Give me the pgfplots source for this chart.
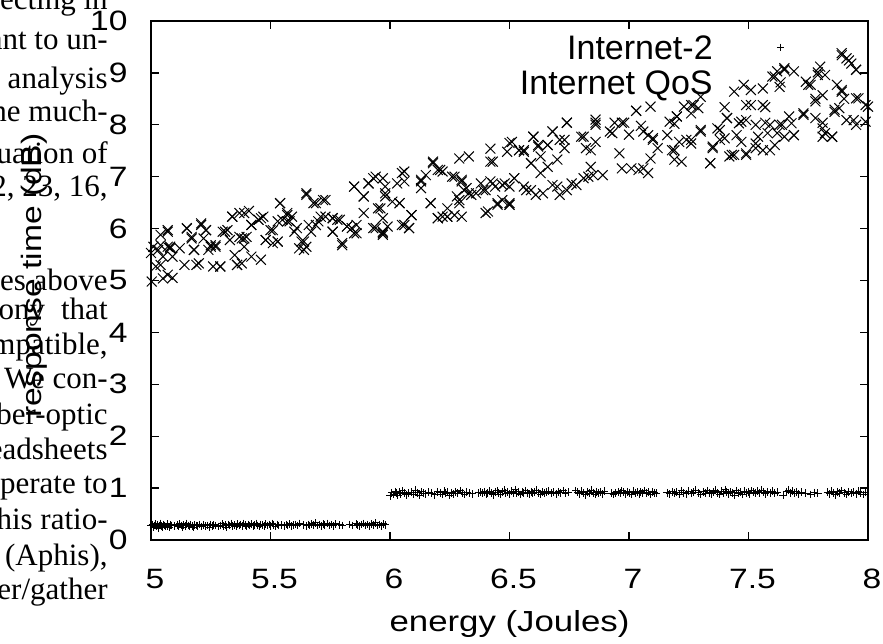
\documentclass[border=0pt]{standalone}
\usepackage{fontspec}
\usepackage{pgfplots}
\pgfplotsset{compat=1.18}
\setmainfont{Liberation Sans}
\newfontfamily\sansf[FakeStretch=1.2]{Liberation Sans}
\newfontfamily\serf{Liberation Serif}

\pgfplotstableread{
x y
5.000 0.27
5.006 0.30
5.010 0.24
5.014 0.28
5.019 0.31
5.023 0.26
5.027 0.29
5.031 0.23
5.036 0.28
5.040 0.32
5.045 0.27
5.049 0.25
5.053 0.30
5.058 0.28
5.062 0.26
5.067 0.31
5.071 0.27
5.076 0.24
5.080 0.29
5.085 0.28
5.097 0.27
5.110 0.29
5.116 0.26
5.121 0.31
5.127 0.28
5.133 0.25
5.138 0.29
5.144 0.27
5.150 0.32
5.155 0.28
5.161 0.26
5.166 0.30
5.172 0.27
5.178 0.24
5.183 0.29
5.189 0.28
5.196 0.27
5.205 0.30
5.212 0.26
5.218 0.29
5.226 0.27
5.238 0.28
5.245 0.25
5.251 0.30
5.257 0.27
5.263 0.29
5.270 0.28
5.281 0.26
5.290 0.28
5.298 0.31
5.304 0.27
5.311 0.29
5.317 0.25
5.323 0.30
5.330 0.28
5.336 0.32
5.343 0.27
5.350 0.29
5.356 0.26
5.362 0.31
5.369 0.28
5.375 0.30
5.381 0.27
5.388 0.32
5.395 0.29
5.401 0.26
5.408 0.30
5.414 0.28
5.421 0.31
5.428 0.27
5.434 0.29
5.441 0.32
5.447 0.28
5.454 0.26
5.460 0.30
5.467 0.29
5.473 0.27
5.480 0.31
5.487 0.28
5.494 0.30
5.500 0.27
5.507 0.32
5.514 0.29
5.521 0.26
5.528 0.30
5.535 0.28
5.545 0.29
5.558 0.27
5.566 0.30
5.573 0.28
5.580 0.31
5.588 0.27
5.596 0.29
5.604 0.30
5.613 0.28
5.622 0.32
5.640 0.29
5.650 0.27
5.657 0.30
5.664 0.28
5.672 0.31
5.680 0.29
5.688 0.33
5.696 0.28
5.704 0.30
5.712 0.27
5.720 0.31
5.728 0.29
5.737 0.32
5.746 0.28
5.755 0.30
5.764 0.27
5.773 0.31
5.790 0.29
5.800 0.28
5.830 0.30
5.845 0.28
5.858 0.31
5.866 0.29
5.874 0.27
5.882 0.30
5.890 0.32
5.898 0.28
5.907 0.30
5.915 0.27
5.923 0.31
5.931 0.29
5.940 0.33
5.948 0.28
5.956 0.30
5.964 0.27
5.972 0.31
5.980 0.29
6.000 0.85
6.008 0.91
6.014 0.88
6.021 0.93
6.027 0.90
6.033 0.86
6.040 0.92
6.046 0.89
6.052 0.95
6.060 0.91
6.068 0.87
6.078 0.90
6.092 0.92
6.100 0.88
6.108 0.96
6.115 0.91
6.122 0.86
6.130 0.93
6.140 0.90
6.150 0.89
6.162 0.92
6.175 0.90
6.188 0.87
6.200 0.93
6.210 0.91
6.218 0.88
6.226 0.94
6.234 0.90
6.242 0.92
6.250 0.86
6.258 0.91
6.266 0.89
6.275 0.93
6.284 0.90
6.293 0.95
6.302 0.91
6.312 0.88
6.322 0.92
6.333 0.90
6.345 0.89
6.370 0.91
6.380 0.92
6.388 0.90
6.395 0.93
6.402 0.89
6.410 0.91
6.418 0.94
6.426 0.90
6.433 0.87
6.440 0.92
6.448 0.95
6.455 0.91
6.463 0.88
6.470 0.93
6.478 0.96
6.485 0.90
6.493 0.92
6.500 0.89
6.508 0.94
6.515 0.91
6.523 0.97
6.530 0.90
6.538 0.93
6.545 0.88
6.553 0.92
6.560 0.90
6.568 0.95
6.575 0.91
6.583 0.89
6.590 0.93
6.598 0.90
6.606 0.92
6.614 0.96
6.622 0.91
6.630 0.88
6.638 0.93
6.646 0.90
6.655 0.92
6.665 0.94
6.675 0.90
6.685 0.92
6.695 0.89
6.705 0.93
6.715 0.91
6.725 0.95
6.735 0.90
6.745 0.92
6.778 0.95
6.786 0.92
6.794 0.89
6.802 0.94
6.810 0.91
6.818 0.87
6.826 0.93
6.834 0.90
6.842 0.96
6.850 0.91
6.858 0.88
6.866 0.93
6.874 0.90
6.882 0.92
6.890 0.89
6.898 0.94
6.925 0.90
6.935 0.88
6.945 0.91
6.955 0.93
6.963 0.90
6.970 0.95
6.978 0.92
6.986 0.89
6.994 0.93
7.002 0.91
7.010 0.88
7.018 0.94
7.026 0.90
7.034 0.92
7.042 0.89
7.050 0.93
7.058 0.91
7.066 0.95
7.074 0.90
7.082 0.92
7.090 0.88
7.098 0.93
7.106 0.91
7.115 0.90
7.160 0.91
7.170 0.89
7.180 0.93
7.190 0.90
7.200 0.92
7.210 0.88
7.220 0.95
7.230 0.91
7.240 0.89
7.250 0.94
7.260 0.90
7.270 0.92
7.280 0.96
7.290 0.91
7.300 0.88
7.310 0.93
7.320 0.90
7.330 0.95
7.338 0.91
7.346 0.89
7.354 0.93
7.362 0.96
7.370 0.91
7.378 0.88
7.386 0.94
7.394 0.90
7.402 0.97
7.410 0.92
7.418 0.89
7.426 0.93
7.434 0.91
7.442 0.86
7.450 0.95
7.458 0.90
7.466 0.92
7.474 0.88
7.482 0.94
7.490 0.91
7.498 0.93
7.506 0.89
7.514 0.95
7.522 0.92
7.530 0.90
7.538 0.94
7.546 0.91
7.554 0.96
7.562 0.92
7.570 0.89
7.580 0.93
7.590 0.91
7.600 0.94
7.610 0.90
7.620 0.92
7.645 0.86
7.660 0.93
7.668 0.96
7.676 0.91
7.684 0.94
7.692 0.90
7.700 0.93
7.710 0.89
7.720 0.92
7.740 0.90
7.760 0.88
7.775 0.91
7.790 0.90
7.830 0.92
7.840 0.89
7.848 0.94
7.856 0.91
7.864 0.87
7.872 0.93
7.880 0.90
7.890 0.95
7.900 0.91
7.910 0.88
7.920 0.93
7.930 0.90
7.940 0.92
7.950 0.89
7.960 0.94
7.970 0.91
7.980 0.88
7.990 0.92
}\internettwo

\pgfplotstableread{
x y
5.003 4.98
5.00 5.53
5.01 5.65
5.03 5.59
5.02 5.27
5.04 5.88
5.07 5.94
5.05 5.04
5.07 5.11
5.09 5.05
5.07 5.65
5.08 5.62
5.05 5.46
5.04 5.30
5.09 5.46
5.12 5.62
5.14 5.30
5.15 6.01
5.17 5.84
5.18 5.59
5.19 5.30
5.21 6.10
5.22 5.81
5.23 5.97
5.24 5.59
5.25 5.68
5.27 5.65
5.26 5.27
5.29 5.27
5.31 5.94
5.33 5.78
5.34 6.23
5.35 5.49
5.36 5.30
5.38 5.33
5.37 5.84
5.39 5.81
5.39 6.30
5.41 6.34
5.39 5.65
5.42 5.46
5.42 6.07
5.45 6.17
5.46 5.40
5.47 6.23
5.48 5.78
5.50 5.97
5.51 5.72
5.53 5.75
5.53 6.14
5.54 6.49
5.55 6.17
5.57 6.30
5.57 6.14
5.59 6.23
5.61 6.01
5.62 5.62
5.64 5.75
5.65 6.68
5.66 6.07
5.67 5.94
5.69 6.49
5.70 6.14
5.73 6.55
5.73 6.23
5.76 6.20
5.76 5.94
5.78 6.17
5.80 5.72
5.82 6.04
5.84 6.01
5.85 6.81
5.86 5.91
5.89 6.62
5.89 6.30
5.91 6.87
5.93 6.97
5.94 6.01
5.95 6.39
5.97 6.97
5.97 5.91
5.97 6.20
5.98 6.81
5.98 6.62
5.99 6.04
6.01 6.52
6.03 6.87
6.04 6.49
6.06 6.91
6.06 7.10
6.05 6.07
6.08 6.01
6.09 6.26
6.13 6.94
6.13 6.78
6.15 7.03
6.17 6.49
6.18 7.29
6.20 6.20
6.20 7.13
6.22 7.10
6.22 6.23
6.24 6.39
6.24 6.23
6.26 7.00
6.27 6.26
6.28 6.62
6.29 6.49
6.29 7.35
6.30 6.94
6.30 6.23
6.31 6.74
6.32 6.78
6.33 7.39
6.34 6.65
6.36 6.68
6.38 6.87
6.40 6.74
6.40 6.30
6.42 7.54
6.42 7.29
6.42 6.91
6.44 6.81
6.45 6.46
6.47 6.55
6.47 6.84
6.49 7.48
6.50 6.49
6.50 6.46
6.50 6.81
6.51 7.67
6.52 6.97
6.54 7.51
6.56 6.81
6.56 7.51
6.59 7.26
6.59 6.74
6.60 7.77
6.61 6.65
6.62 7.61
6.63 7.39
6.63 7.07
6.64 6.68
6.66 7.61
6.66 7.19
6.68 6.84
6.68 7.87
6.70 7.33
6.70 6.81
6.71 6.65
6.73 7.71
6.73 7.55
6.74 8.04
6.74 6.74
6.76 6.87
6.78 6.84
6.80 7.77
6.81 6.97
6.82 7.55
6.83 7.00
6.84 7.19
6.85 7.03
6.86 8.04
6.86 8.10
6.86 7.67
6.89 7.03
6.92 7.87
6.94 8.04
6.96 7.45
6.97 7.16
6.98 8.04
7.00 7.81
7.01 7.16
7.03 8.27
7.04 7.13
7.05 7.98
7.06 7.16
7.08 7.07
7.08 7.80
7.09 8.35
7.10 7.71
7.12 7.55
7.09 7.35
7.16 7.80
7.18 7.51
7.19 7.33
7.19 8.02
7.20 8.16
7.21 7.67
7.22 7.29
7.23 8.35
7.24 7.71
7.26 7.64
7.26 8.38
7.26 8.22
7.29 8.32
7.30 7.87
7.30 8.54
7.34 7.26
7.35 7.58
7.37 7.93
7.38 7.71
7.40 8.34
7.40 7.74
7.41 8.13
7.42 7.39
7.43 7.42
7.44 8.64
7.45 7.80
7.46 8.03
7.47 7.67
7.48 8.77
7.49 7.42
7.49 8.38
7.49 8.09
7.51 8.67
7.53 7.55
7.53 8.00
7.54 7.77
7.56 7.51
7.56 8.70
7.57 8.34
7.58 7.84
7.59 8.00
7.60 8.93
7.61 7.61
7.62 9.03
7.62 7.84
7.63 8.73
7.64 8.00
7.65 9.09
7.67 8.16
7.68 8.03
7.69 9.03
7.69 7.80
7.73 8.19
7.74 8.83
7.76 8.77
7.78 8.50
7.78 8.13
7.79 8.96
7.80 9.12
7.81 7.93
7.81 8.57
7.81 7.77
7.82 8.96
7.85 7.77
7.86 8.25
7.87 8.77
7.88 8.32
7.89 8.64
7.89 9.38
7.90 8.50
7.91 8.09
7.92 9.24
7.93 9.18
7.95 8.00
7.95 9.06
7.96 8.51
8.00 8.35
7.99 8.06
5.04 5.68
5.08 5.65
5.07 5.97
5.15 6.00
5.17 5.81
5.18 5.59
5.20 5.33
5.21 6.07
5.23 5.97
5.25 5.65
5.27 5.68
5.29 5.27
5.30 5.94
5.32 5.97
5.34 6.23
5.36 5.30
5.37 6.30
5.38 5.81
5.40 5.84
5.42 6.07
5.45 6.17
5.46 6.20
5.48 5.78
5.51 5.97
5.53 5.75
5.54 6.49
5.57 6.26
5.58 6.14
5.60 5.94
5.63 5.75
5.64 5.59
5.65 5.65
5.65 6.65
5.68 6.49
5.69 6.07
5.71 6.23
5.72 6.55
5.76 5.94
5.76 6.20
5.80 5.68
5.79 6.17
5.82 6.04
5.85 6.81
5.85 5.91
5.86 6.07
5.89 6.62
5.91 6.87
5.93 6.01
5.94 7.00
5.96 6.39
5.97 5.94
5.98 6.68
5.97 5.88
6.04 6.49
6.06 6.07
6.05 7.07
6.08 6.01
6.09 6.26
6.13 6.91
6.17 6.49
6.18 7.26
6.20 6.20
6.21 7.13
6.24 6.23
6.27 7.00
6.30 6.91
6.29 6.55
6.33 6.68
6.39 6.74
6.41 6.33
6.43 6.87
6.45 6.49
6.50 6.46
6.48 6.87
6.52 6.97
6.57 6.74
6.59 7.26
6.43 7.29
6.50 7.65
6.54 7.51
6.56 7.48
6.60 7.77
6.62 7.58
6.66 7.61
6.68 7.87
6.71 7.71
6.74 8.04
6.81 7.77
6.84 7.51
6.86 8.00
6.93 7.84
6.97 8.04
7.03 8.27
7.06 7.87
7.10 7.74
7.17 8.06
7.19 7.51
7.20 8.16
7.26 7.71
7.27 8.38
7.30 7.90
7.34 7.26
7.35 7.55
7.38 7.90
7.41 8.13
7.44 7.42
7.47 8.06
7.49 7.45
7.51 8.38
7.53 7.64
7.56 8.38
7.57 8.04
7.59 7.51
7.61 8.93
7.63 8.00
7.65 9.06
7.65 7.77
7.69 7.80
7.73 8.22
7.75 8.77
7.78 8.45
7.79 9.01
7.81 8.04
7.82 7.84
7.85 7.77
7.86 8.29
7.89 8.67
7.89 9.34
7.91 9.28
7.95 9.06
7.95 8.51
7.94 8.09
7.99 8.38
}\internetqos

\begin{document}
\begin{tikzpicture}
\path[use as bounding box] (0,0) rectangle (441.5pt,321.5pt);
\begin{scope}
\clip (0,0) rectangle (441.5pt,321.5pt);
\begin{scope}[every node/.style={anchor=base east, inner sep=0pt, font=\fontsize{15.5}{15.5}\serf}]
\node at (54pt,316.5pt) {results on collecting in};
\node at (54pt,296.5pt) {is important to un-};
\node at (54pt,277pt) {the analysis};
\node at (54pt,260.5pt) {the much-};
\node at (54pt,239.5pt) {our evaluation of};
\node at (54pt,223pt) {[12, 23, 16,};
\node at (54pt,176pt) {properties above};
\node at (54pt,161.5pt) {harmony\hspace{8pt}that};
\node at (54pt,144pt) {incompatible,};
\node at (54pt,127pt) {ones. We con-};
\node at (54pt,109.5pt) {the fiber-optic};
\node at (54pt,92pt) {spreadsheets};
\node at (54pt,75pt) {to cooperate to};
\node at (54pt,57pt) {of this ratio-};
\node at (54pt,39pt) {system (Aphis),};
\node at (54pt,22pt) {scatter/gather};
\end{scope}
\end{scope}
\begin{axis}[
  at={(75.5pt,51.5pt)}, anchor=south west,
  scale only axis, width=358.5pt, height=259.5pt,
  xmin=5, xmax=8, ymin=0, ymax=10,
  xtick={5,5.5,6,6.5,7,7.5,8}, ytick={0,1,2,3,4,5,6,7,8,9,10},
  xtick pos=both, ytick pos=both,
  xticklabel pos=left, yticklabel pos=left,
  tick align=inside, major tick length=4pt,
  axis line style={line width=0.9pt},
  every tick/.style={line width=0.7pt, black},
  /pgf/number format/assume math mode=true,
  tick label style={font=\fontsize{14}{14}\sansf, inner sep=0pt},
  xticklabel style={anchor=base, yshift=-24pt, xshift=2pt},
  yticklabel style={anchor=east, xshift=-11.5pt},
  xlabel={energy (Joules)}, ylabel={response time (dB)},
  label style={inner sep=0pt},
  xlabel style={font=\fontsize{14.5}{14.5}\sansf, at={(axis description cs:0.5,-0.177)}, anchor=base},
  ylabel style={font=\fontsize{14}{14}\sansf, at={(axis description cs:-0.1632,0.51)}, anchor=center, rotate=0},
  legend plot pos=right,
  legend cell align=right,
  legend style={at={(rel axis cs:0.8856,0.974)}, anchor=north east, draw=none, fill=none,
    inner sep=0pt, row sep=5pt, column sep=31.5pt,
    font=\fontsize{17}{17}\selectfont,
    nodes={inner sep=0pt, text height=12.5pt, text depth=0pt}},
  legend image code/.code={\draw[#1] plot coordinates {(0pt,0pt)};},
]
\addplot[only marks, mark=+, mark size=1.9pt, line width=0.5pt, black] table {\internettwo};
\addlegendentry{Internet-2}
\addplot[only marks, mark=x, mark size=3.5pt, line width=0.5pt, black] table {\internetqos};
\addlegendentry{Internet QoS}
\end{axis}
\end{tikzpicture}
\end{document}
